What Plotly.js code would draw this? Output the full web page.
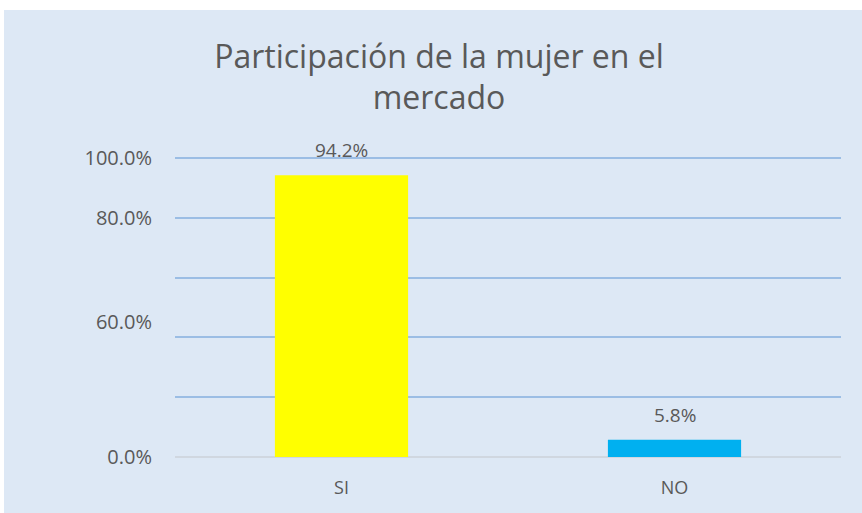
<!DOCTYPE html>
<html>
<head>
<meta charset="utf-8">
<script src="https://cdn.plot.ly/plotly-3.0.1.min.js"></script>
<style>
html,body{margin:0;padding:0;background:#ffffff;width:862px;height:513px;overflow:hidden;}
#chart{position:absolute;left:4px;top:10px;width:858px;height:503px;}
</style>
</head>
<body>
<div id="chart"></div>
<script>
const categories = ["SI", "NO"];
const values = [94.2, 5.8];
const barColors = ["#ffff00", "#00b0f0"];
const labelTexts = ["94.2%", "5.8%"];
const yTickVals = [0, 45, 80, 100];
const yTickText = ["0.0%", "60.0%", "80.0%", "100.0%"];
const gridVals = [20, 40, 60, 80, 100];

const FONT = "Open Sans, sans-serif";
const GREY = "#595959";

const trace = {
  type: "bar",
  x: categories,
  y: values,
  marker: {color: barColors},
  width: 0.4,
  hoverinfo: "none"
};

const annotations = categories.map((c, i) => ({
  x: c, y: values[i], xref: "x", yref: "y",
  text: labelTexts[i], showarrow: false,
  yanchor: "bottom", yshift: 10,
  font: {family: FONT, size: 19, color: GREY}
}));

const layout = {
  width: 858,
  height: 503,
  paper_bgcolor: "#dde8f5",
  plot_bgcolor: "#dde8f5",
  margin: {l: 171, r: 21, t: 145, b: 56},
  showlegend: false,
  annotations: annotations,
  title: {
    text: "Participación de la mujer en el<br>mercado",
    font: {family: FONT, size: 32, color: GREY},
    x: 0.507, xanchor: "center",
    y: 0.885, yanchor: "top"
  },
  xaxis: {
    type: "category",
    showgrid: false,
    showline: false,
    zeroline: false,
    ticks: "outside",
    ticklen: 14,
    tickcolor: "rgba(0,0,0,0)",
    tickfont: {family: FONT, size: 18, color: GREY}
  },
  yaxis: {
    range: [0, 101],
    tickvals: yTickVals,
    ticktext: yTickText,
    showgrid: false,
    zeroline: true,
    zerolinecolor: "#d0d7e0",
    zerolinewidth: 2,
    showline: false,
    ticks: "outside",
    ticklen: 18,
    tickcolor: "rgba(0,0,0,0)",
    tickfont: {family: FONT, size: 20, color: GREY},
    minor: {tickvals: gridVals, showgrid: true, gridcolor: "#9bbde4", gridwidth: 2, ticklen: 0}
  }
};

Plotly.newPlot("chart", [trace], layout, {displayModeBar: false, staticPlot: true});
</script>
</body>
</html>
